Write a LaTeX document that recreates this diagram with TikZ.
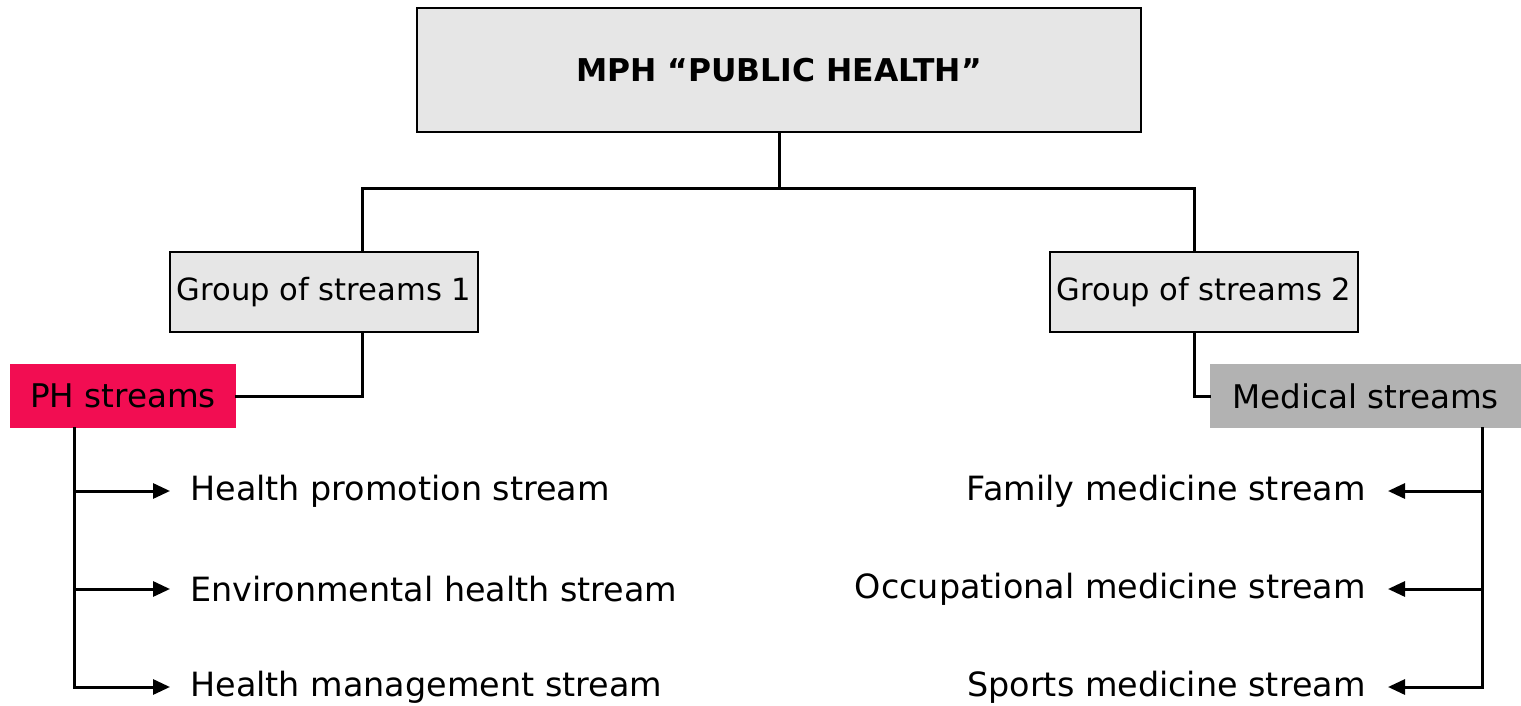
\documentclass[tikz,border=0pt]{standalone}
\usepackage{fontspec}
\setmainfont{DejaVu Sans}
\usepackage{xcolor}
\usetikzlibrary{arrows.meta,positioning}
\definecolor{phred}{RGB}{242,13,82}
\definecolor{medgray}{RGB}{178,178,178}
\definecolor{boxgray}{RGB}{230,230,230}

\begin{document}
\begin{tikzpicture}[
  x=0.5pt, y=-0.5pt, >={Triangle[length=8.5pt,width=7.5pt]},
  box/.style={draw, line width=1pt, fill=boxgray, inner sep=0pt, font=\fontsize{15.3}{18}\selectfont},
  tag/.style={inner sep=0pt, font=\fontsize{16.3}{19}\selectfont},
  item/.style={inner sep=0pt, font=\fontsize{16.7}{20}\selectfont},
  link/.style={line width=1.5pt, line cap=rect}
]
\useasboundingbox (0,0) rectangle (1521,706);
\node[box, minimum width=362pt, minimum height=62pt, font=\fontsize{15.7}{19}\selectfont\bfseries] (mph) at (779,70) {MPH “PUBLIC HEALTH”};
\node[box, minimum width=154pt, minimum height=40pt] (g1) at (324,292) {Group of streams 1};
\node[box, minimum width=154pt, minimum height=40pt] (g2) at (1204,292) {Group of streams 2};
\node[tag, fill=phred, minimum width=113pt, minimum height=32pt] (ph) at (123,396) {PH streams};
\node[tag, fill=medgray, minimum width=155.5pt, minimum height=32pt] (med) at (1365.5,396) {Medical streams};
% streams
\node[item, anchor=west] (hp) at (190,491) {Health promotion stream};
\node[item, anchor=west] (eh) at (190,589) {Environmental health stream};
\node[item, anchor=west] (hm) at (190,687) {Health management stream};
\node[item, anchor=east] (fm) at (1366,491) {Family medicine stream};
\node[item, anchor=east] (om) at (1366,589) {Occupational medicine stream};
\node[item, anchor=east] (sm) at (1366,687) {Sports medicine stream};
\coordinate (split) at (779,188);
\coordinate (j1) at (362,188);
\coordinate (j2) at (1194,188);
\coordinate (tl) at (74,687);
\coordinate (tr) at (1482,687);
\draw[link] (mph.south -| split) -- (split);
\draw[link] (j1 |- g1.north) -- (j1) -- (j2) -- (j2 |- g2.north);
\draw[link] (j1 |- g1.south) |- (ph.east);
\draw[link] (j2 |- g2.south) |- (med.west);
\draw[link] (ph.south -| tl) -- (tl);
\draw[link] (med.south -| tr) -- (tr);
\draw[link, ->] (tl |- hp) -- ([xshift=-10pt]hp.west);
\draw[link, ->] (tl |- eh) -- ([xshift=-10pt]eh.west);
\draw[link, ->] (tl) -- ([xshift=-10pt]hm.west);
\draw[link, ->] (tr |- fm) -- ([xshift=11pt]fm.east);
\draw[link, ->] (tr |- om) -- ([xshift=11pt]om.east);
\draw[link, ->] (tr) -- ([xshift=11pt]sm.east);
\end{tikzpicture}
\end{document}
